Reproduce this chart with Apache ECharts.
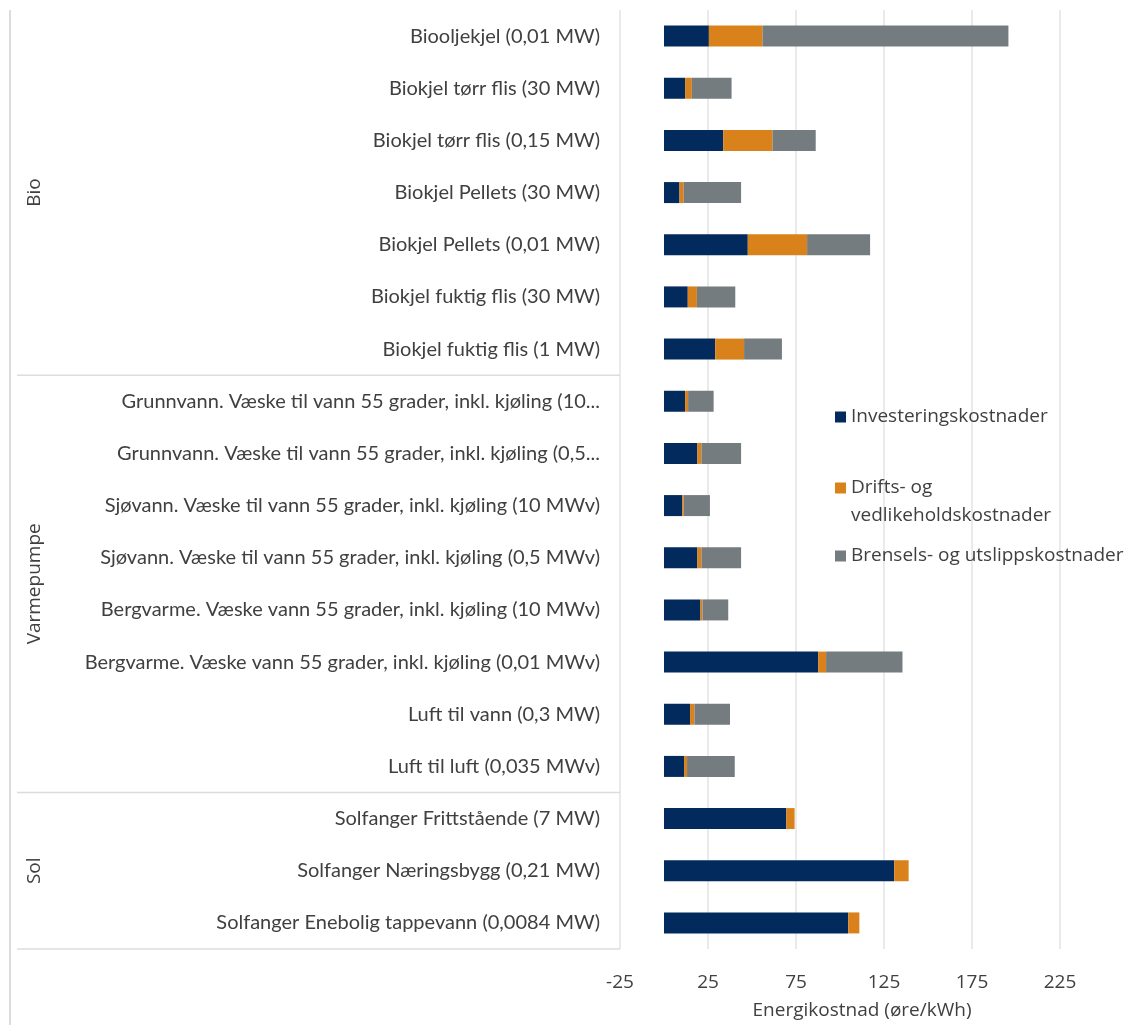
<!DOCTYPE html>
<html>
<head>
<meta charset="utf-8">
<title>Energikostnad</title>
<script src="https://cdn.jsdelivr.net/npm/echarts@6/dist/echarts.min.js"></script>
<style>
  html, body { margin: 0; padding: 0; background: #fff; }
  #chart { width: 1129px; height: 1025px; }
</style>
</head>
<body>
<div id="chart"></div>
<script>
// kategorier (ovenfra og ned)
const categories = [
  'Biooljekjel (0,01 MW)',
  'Biokjel tørr flis (30 MW)',
  'Biokjel tørr flis (0,15 MW)',
  'Biokjel Pellets (30 MW)',
  'Biokjel Pellets (0,01 MW)',
  'Biokjel fuktig flis (30 MW)',
  'Biokjel fuktig flis (1 MW)',
  'Grunnvann. Væske til vann 55 grader, inkl. kjøling (10...',
  'Grunnvann. Væske til vann 55 grader, inkl. kjøling (0,5...',
  'Sjøvann. Væske til vann 55 grader, inkl. kjøling (10 MWv)',
  'Sjøvann. Væske til vann 55 grader, inkl. kjøling (0,5 MWv)',
  'Bergvarme. Væske vann 55 grader, inkl. kjøling (10 MWv)',
  'Bergvarme. Væske vann 55 grader, inkl. kjøling (0,01 MWv)',
  'Luft til vann (0,3 MW)',
  'Luft til luft (0,035 MWv)',
  'Solfanger Frittstående (7 MW)',
  'Solfanger Næringsbygg (0,21 MW)',
  'Solfanger Enebolig tappevann (0,0084 MW)'
];

const investering = [25.5, 12.0, 33.7, 8.8, 47.6, 13.5, 29.1, 12.0, 19.0, 10.3, 19.0, 20.7, 87.6, 14.8, 11.4, 69.5, 130.8, 104.7];
const drift       = [30.5, 3.8, 28.0, 2.4, 33.7, 5.2, 16.4, 1.7, 2.3, 0.9, 2.3, 1.2, 4.5, 2.5, 1.7, 4.7, 8.2, 6.3];
const brensel     = [139.7, 22.6, 24.5, 32.6, 35.8, 21.8, 21.5, 14.5, 22.5, 14.9, 22.5, 14.6, 43.4, 20.2, 27.1, 0, 0, 0];

const xTicks = [-25, 25, 75, 125, 175, 225];

// grupper på kategoriaksen
const groupNames = ['Bio', 'Varmepumpe', 'Sol'];
const groupSizes = [7, 8, 3];

const textColor = '#404040';
const chart = echarts.init(document.getElementById('chart'));

const legendBase = {
  orient: 'vertical',
  left: 835,
  padding: 0,
  icon: 'rect',
  itemWidth: 11,
  itemHeight: 11,
  selectedMode: false,
  textStyle: { fontFamily: 'Open Sans', fontSize: 19, color: textColor, lineHeight: 28 }
};

chart.setOption({
  animation: false,
  grid: { left: 620, right: 25, top: 10, bottom: 74 },
  xAxis: {
    type: 'value',
    min: -25,
    max: 250,
    axisLine: { show: false },
    axisTick: { show: false, customValues: xTicks },
    axisLabel: { customValues: xTicks, fontFamily: 'Open Sans', fontSize: 19, color: textColor, margin: 24 },
    splitLine: { show: true, lineStyle: { color: '#e3e3e3', width: 1.5 } },
    name: 'Energikostnad (øre/kWh)',
    nameLocation: 'middle',
    nameGap: 52,
    nameTextStyle: { fontFamily: 'Open Sans', fontSize: 19, color: textColor }
  },
  yAxis: {
    type: 'category',
    inverse: true,
    data: categories,
    axisLine: { show: false },
    axisTick: { show: false },
    axisLabel: { fontFamily: 'Lato', fontSize: 20, color: textColor, margin: 20 }
  },
  legend: [
    Object.assign({}, legendBase, { data: ['Investeringskostnader'], top: 403 }),
    // tom første linje så markøren står ved "Drifts- og"
    Object.assign({}, legendBase, {
      data: ['Drifts- og vedlikeholdskostnader'],
      top: 446,
      formatter: () => ' \nDrifts- og\nvedlikeholdskostnader'
    }),
    Object.assign({}, legendBase, { data: ['Brensels- og utslippskostnader'], top: 542 })
  ],
  series: [
    { name: 'Investeringskostnader', type: 'bar', stack: 'sum', barWidth: 21, data: investering, itemStyle: { color: '#022a5c' } },
    { name: 'Drifts- og vedlikeholdskostnader', type: 'bar', stack: 'sum', barWidth: 21, data: drift, itemStyle: { color: '#d9821c' } },
    { name: 'Brensels- og utslippskostnader', type: 'bar', stack: 'sum', barWidth: 21, data: brensel, itemStyle: { color: '#747c7f' } }
  ]
});

// gruppeetiketter og skillelinjer, plassert via kategoriaksen
const yPix = (i) => chart.convertToPixel({ yAxisIndex: 0 }, categories[i]);
const step = yPix(1) - yPix(0);
const lineColor = '#dcdcdc';
const elements = [
  { type: 'line', shape: { x1: 10, y1: 10, x2: 10, y2: 1025 }, style: { stroke: lineColor, lineWidth: 2 } }
];
let start = 0;
groupNames.forEach((name, g) => {
  const end = start + groupSizes[g] - 1;
  const yEnd = yPix(end) + step / 2;
  const yMid = (yPix(start) + yPix(end)) / 2;
  elements.push({ type: 'line', shape: { x1: 17, y1: yEnd, x2: 620, y2: yEnd }, style: { stroke: lineColor, lineWidth: 1.5 } });
  elements.push({
    type: 'text', x: 35, y: yMid, rotation: Math.PI / 2,
    style: { text: name, fontFamily: 'Open Sans', fontSize: 19, fill: textColor, align: 'center', verticalAlign: 'middle' }
  });
  start = end + 1;
});
chart.setOption({ graphic: elements });
</script>
</body>
</html>
